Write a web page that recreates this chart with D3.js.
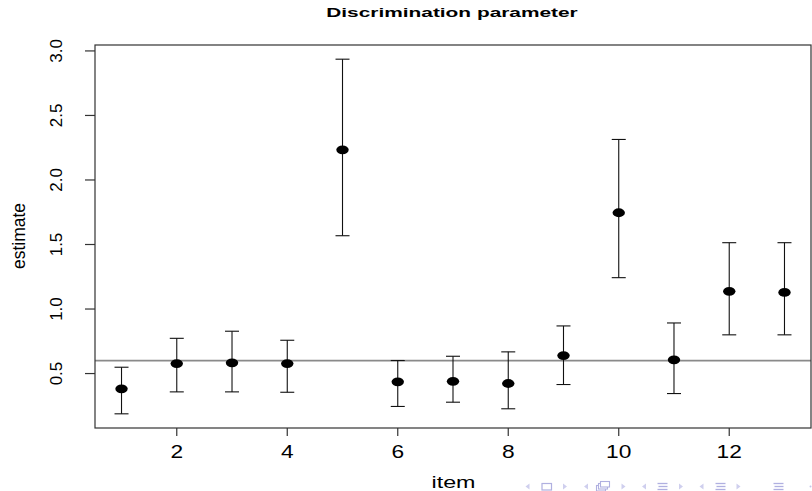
<!DOCTYPE html>
<html>
<head>
<meta charset="utf-8">
<script src="https://cdn.jsdelivr.net/npm/d3@7"></script>
<style>
  body { margin: 0; background: #fff; }
  text { font-family: "Liberation Sans", Arial, Helvetica, sans-serif; fill: #000; }
</style>
</head>
<body>
<div id="chart"></div>
<script>
// item estimates with lower / upper interval bounds
var items = [1, 2, 3, 4, 5, 6, 7, 8, 9, 10, 11, 12, 13];
var estimate = [0.382, 0.577, 0.583, 0.577, 2.234, 0.436, 0.44, 0.423, 0.639, 1.746, 0.606, 1.137, 1.129];
var lower = [0.188, 0.358, 0.358, 0.355, 1.568, 0.245, 0.278, 0.227, 0.415, 1.243, 0.345, 0.8, 0.8];
var upper = [0.549, 0.773, 0.828, 0.758, 2.936, 0.601, 0.634, 0.668, 0.869, 2.314, 0.892, 1.514, 1.514];
var refValue = 0.6;
var xTicks = [2, 4, 6, 8, 10, 12];
var yTicks = [0.5, 1.0, 1.5, 2.0, 2.5, 3.0];

function init() {
  var width = 812,
    height = 491;
  var plot = { left: 95, right: 811, top: 45, bottom: 428 };

  var svg = d3
    .select("#chart")
    .append("svg")
    .attr("width", width)
    .attr("height", height);

  // R style 4% padding on both axes
  function padded(lo, hi) {
    var d = (hi - lo) * 0.04;
    return [lo - d, hi + d];
  }
  var x = d3
    .scaleLinear()
    .domain(padded(d3.min(items), d3.max(items)))
    .range([plot.left, plot.right]);
  var y = d3
    .scaleLinear()
    .domain(padded(d3.min(lower), d3.max(upper)))
    .range([plot.bottom, plot.top]);

  var data = items.map(function (d, i) {
    return { item: d, est: estimate[i], lo: lower[i], hi: upper[i] };
  });

  // reference line
  svg
    .append("line")
    .attr("x1", plot.left)
    .attr("x2", plot.right)
    .attr("y1", y(refValue))
    .attr("y2", y(refValue))
    .attr("stroke", "#8a8a8a")
    .attr("stroke-width", 1.6);

  // error bars
  var bars = svg.append("g").attr("stroke", "#111").attr("stroke-width", 1.1);
  bars
    .selectAll(".stem")
    .data(data)
    .enter()
    .append("line")
    .attr("x1", function (d) { return x(d.item); })
    .attr("x2", function (d) { return x(d.item); })
    .attr("y1", function (d) { return y(d.lo); })
    .attr("y2", function (d) { return y(d.hi); });
  ["lo", "hi"].forEach(function (k) {
    bars
      .selectAll(".cap-" + k)
      .data(data)
      .enter()
      .append("line")
      .attr("x1", function (d) { return x(d.item) - 7; })
      .attr("x2", function (d) { return x(d.item) + 7; })
      .attr("y1", function (d) { return y(d[k]); })
      .attr("y2", function (d) { return y(d[k]); });
  });

  // points (picture is stretched sideways, so dots are ellipses)
  svg
    .append("g")
    .selectAll("ellipse")
    .data(data)
    .enter()
    .append("ellipse")
    .attr("cx", function (d) { return x(d.item); })
    .attr("cy", function (d) { return y(d.est); })
    .attr("rx", 6.2)
    .attr("ry", 4.4)
    .attr("fill", "#000");

  // box
  svg
    .append("rect")
    .attr("x", plot.left)
    .attr("y", plot.top)
    .attr("width", plot.right - plot.left)
    .attr("height", plot.bottom - plot.top)
    .attr("fill", "none")
    .attr("stroke", "#333")
    .attr("stroke-width", 1.2);

  // x axis
  var xa = svg.append("g");
  xa.selectAll("line")
    .data(xTicks)
    .enter()
    .append("line")
    .attr("x1", function (d) { return x(d); })
    .attr("x2", function (d) { return x(d); })
    .attr("y1", plot.bottom)
    .attr("y2", plot.bottom + 8)
    .attr("stroke", "#333")
    .attr("stroke-width", 1.2);
  xa.selectAll("g")
    .data(xTicks)
    .enter()
    .append("g")
    .attr("transform", function (d) { return "translate(" + x(d) + ",457.5) scale(1.3,1)"; })
    .append("text")
    .attr("text-anchor", "middle")
    .style("font-size", "17.5px")
    .text(function (d) { return d; });

  // y axis
  var ya = svg.append("g");
  ya.selectAll("line")
    .data(yTicks)
    .enter()
    .append("line")
    .attr("x1", plot.left - 10)
    .attr("x2", plot.left)
    .attr("y1", function (d) { return y(d); })
    .attr("y2", function (d) { return y(d); })
    .attr("stroke", "#333")
    .attr("stroke-width", 1.2);
  ya.selectAll("text")
    .data(yTicks)
    .enter()
    .append("text")
    .attr("text-anchor", "middle")
    .attr("transform", function (d) { return "translate(62," + y(d) + ") rotate(-90)"; })
    .style("font-size", "17px")
    .text(function (d) { return d.toFixed(1); });

  // titles
  svg
    .append("g")
    .attr("transform", "translate(452,17.3) scale(1.67,1)")
    .append("text")
    .attr("text-anchor", "middle")
    .style("font-size", "12.5px")
    .style("font-weight", "bold")
    .text("Discrimination parameter");
  svg
    .append("g")
    .attr("transform", "translate(453.5,488.3) scale(1.37,1)")
    .append("text")
    .attr("text-anchor", "middle")
    .style("font-size", "17px")
    .text("item");
  svg
    .append("text")
    .attr("text-anchor", "middle")
    .attr("transform", "translate(25,236) rotate(-90)")
    .style("font-size", "17.5px")
    .text("estimate");

  // beamer navigation symbols
  var nav = svg.append("g").attr("fill", "#c4c4e8").attr("stroke", "#b0b0e0");
  function tri(cx, dir) {
    nav.append("path")
      .attr("d", "M" + (cx + 2 * dir) + ",483.5 L" + (cx - 2 * dir) + ",486.5 L" + (cx + 2 * dir) + ",489.5 Z")
      .attr("stroke", "none")
      .attr("fill", "#cfcfee");
  }
  function bars3(cx) {
    [483.5, 486.5, 489.5].forEach(function (yy, i) {
      nav.append("line")
        .attr("x1", cx - 5 + (i == 1 ? 1 : 0))
        .attr("x2", cx + 5)
        .attr("y1", yy)
        .attr("y2", yy)
        .attr("stroke-width", 1.3);
    });
  }
  tri(527.5, 1);
  nav.append("rect").attr("x", 542).attr("y", 483.5).attr("width", 9.5).attr("height", 6.5)
    .attr("fill", "none").attr("stroke-width", 1.2);
  tri(565, -1);
  tri(586, 1);
  [0, 2, 4].forEach(function (o) {
    nav.append("rect").attr("x", 596.5 + o).attr("y", 485.5 - o).attr("width", 9).attr("height", 5.5)
      .attr("fill", "#fff").attr("stroke-width", 1.1);
  });
  tri(623.5, -1);
  tri(644, 1);
  bars3(662.5);
  tri(681, -1);
  tri(701.5, 1);
  bars3(720.5);
  tri(738.5, -1);
  bars3(778.5);
  nav.append("circle").attr("cx", 810.5).attr("cy", 486.5).attr("r", 1).attr("stroke", "none");
}

window.onload = init;
</script>
</body>
</html>
